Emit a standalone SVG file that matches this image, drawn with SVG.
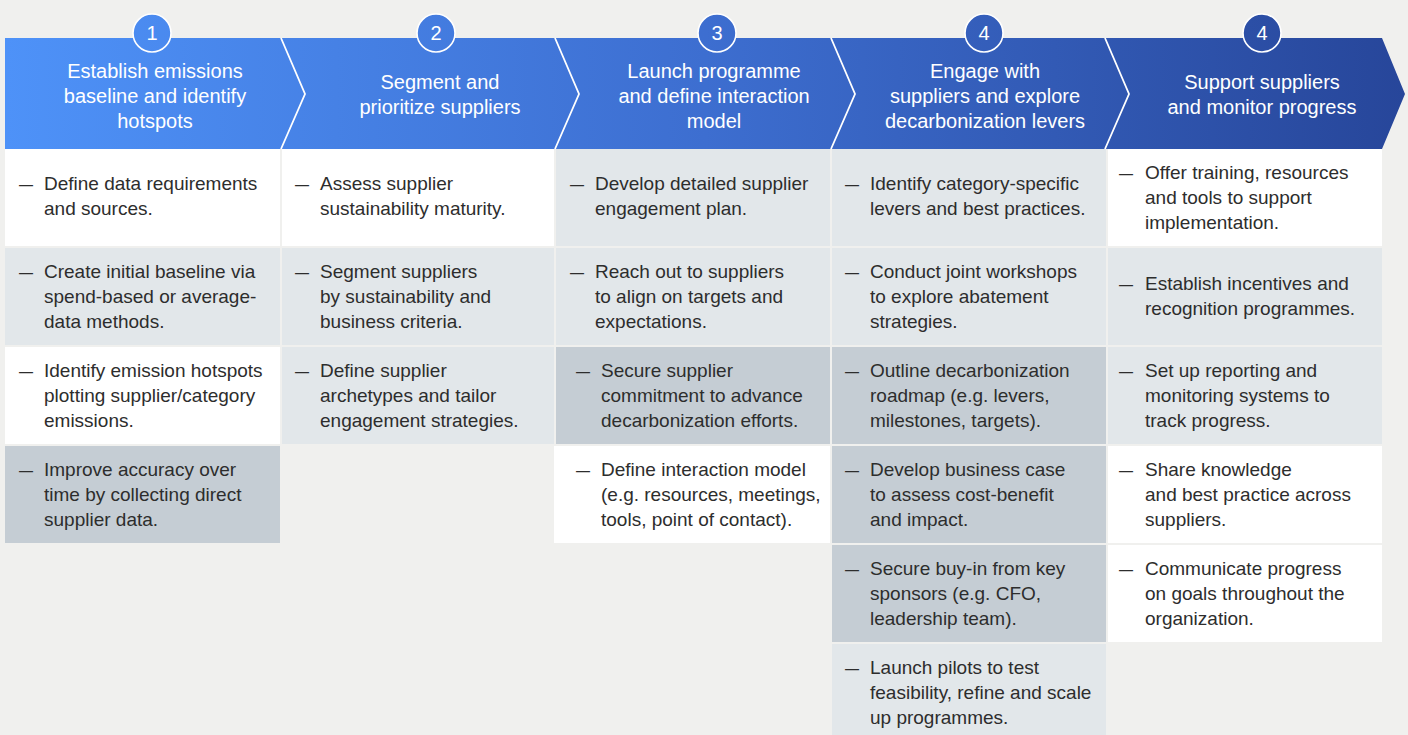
<svg xmlns="http://www.w3.org/2000/svg" width="1408" height="735" viewBox="0 0 1408 735">
<defs>
<linearGradient id="band" gradientUnits="userSpaceOnUse" x1="5" y1="0" x2="1405" y2="0">
<stop offset="0" stop-color="#4E92F8"/>
<stop offset="0.5" stop-color="#3D6ED0"/>
<stop offset="1" stop-color="#27469A"/>
</linearGradient>
<style>
.bg{fill:#F0F0EE}
.chev{fill:url(#band)}
.sep{fill:none;stroke:#FFFFFF;stroke-width:1.8;stroke-linejoin:miter}
.circ{fill:url(#band);stroke:#FFFFFF;stroke-width:1.6}
.num{font-family:"Liberation Sans",Arial,sans-serif;font-size:20px;fill:#FFFFFF;text-anchor:middle}
.ht{font-family:"Liberation Sans",Arial,sans-serif;font-size:20px;fill:#FFFFFF;text-anchor:middle}
.w{fill:#FFFFFF}
.l{fill:#E2E7EA}
.d{fill:#C5CDD4}
.t{font-family:"Liberation Sans",Arial,sans-serif;font-size:19px;fill:#2D2D2D}
</style>
</defs>
<rect class="bg" x="0" y="0" width="1408" height="735"/>

<g id="step1">
<polygon class="chev" points="5,38 281,38 305,94 281,149 5,149"/>
<rect class="w" x="5" y="149" width="275" height="97"/>
<rect class="l" x="5" y="248" width="275" height="97"/>
<rect class="w" x="5" y="347" width="275" height="97"/>
<rect class="d" x="5" y="446" width="275" height="97"/>
<text class="t"><tspan x="19" y="190" textLength="14" lengthAdjust="spacingAndGlyphs">—</tspan><tspan x="44" y="190">Define data requirements</tspan><tspan x="44" y="215">and sources.</tspan></text>
<text class="t"><tspan x="19" y="278" textLength="14" lengthAdjust="spacingAndGlyphs">—</tspan><tspan x="44" y="278">Create initial baseline via</tspan><tspan x="44" y="303">spend-based or average-</tspan><tspan x="44" y="328">data methods.</tspan></text>
<text class="t"><tspan x="19" y="377" textLength="14" lengthAdjust="spacingAndGlyphs">—</tspan><tspan x="44" y="377">Identify emission hotspots</tspan><tspan x="44" y="402">plotting supplier/category</tspan><tspan x="44" y="427">emissions.</tspan></text>
<text class="t"><tspan x="19" y="476" textLength="14" lengthAdjust="spacingAndGlyphs">—</tspan><tspan x="44" y="476">Improve accuracy over</tspan><tspan x="44" y="501">time by collecting direct</tspan><tspan x="44" y="526">supplier data.</tspan></text>
</g>

<g id="step2">
<polygon class="chev" points="281,38 555,38 579,94 555,149 281,149 305,94"/>
<rect class="w" x="282" y="149" width="272" height="97"/>
<rect class="l" x="282" y="248" width="272" height="97"/>
<rect class="l" x="282" y="347" width="272" height="97"/>
<text class="t"><tspan x="295" y="190" textLength="14" lengthAdjust="spacingAndGlyphs">—</tspan><tspan x="320" y="190">Assess supplier</tspan><tspan x="320" y="215">sustainability maturity.</tspan></text>
<text class="t"><tspan x="295" y="278" textLength="14" lengthAdjust="spacingAndGlyphs">—</tspan><tspan x="320" y="278">Segment suppliers</tspan><tspan x="320" y="303">by sustainability and</tspan><tspan x="320" y="328">business criteria.</tspan></text>
<text class="t"><tspan x="295" y="377" textLength="14" lengthAdjust="spacingAndGlyphs">—</tspan><tspan x="320" y="377">Define supplier</tspan><tspan x="320" y="402">archetypes and tailor</tspan><tspan x="320" y="427">engagement strategies.</tspan></text>
</g>

<g id="step3">
<polygon class="chev" points="555,38 831,38 855,94 831,149 555,149 579,94"/>
<rect class="l" x="556" y="149" width="274" height="97"/>
<rect class="l" x="556" y="248" width="274" height="97"/>
<rect class="d" x="556" y="347" width="274" height="97"/>
<rect class="w" x="554" y="446" width="276" height="97"/>
<text class="t"><tspan x="570" y="190" textLength="14" lengthAdjust="spacingAndGlyphs">—</tspan><tspan x="595" y="190">Develop detailed supplier</tspan><tspan x="595" y="215">engagement plan.</tspan></text>
<text class="t"><tspan x="570" y="278" textLength="14" lengthAdjust="spacingAndGlyphs">—</tspan><tspan x="595" y="278">Reach out to suppliers</tspan><tspan x="595" y="303">to align on targets and</tspan><tspan x="595" y="328">expectations.</tspan></text>
<text class="t"><tspan x="576" y="377" textLength="14" lengthAdjust="spacingAndGlyphs">—</tspan><tspan x="601" y="377">Secure supplier</tspan><tspan x="601" y="402">commitment to advance</tspan><tspan x="601" y="427">decarbonization efforts.</tspan></text>
<text class="t"><tspan x="576" y="476" textLength="14" lengthAdjust="spacingAndGlyphs">—</tspan><tspan x="601" y="476">Define interaction model</tspan><tspan x="601" y="501">(e.g. resources, meetings,</tspan><tspan x="601" y="526">tools, point of contact).</tspan></text>
</g>

<g id="step4">
<polygon class="chev" points="831,38 1105,38 1129,94 1105,149 831,149 855,94"/>
<rect class="l" x="832" y="149" width="274" height="97"/>
<rect class="l" x="832" y="248" width="274" height="97"/>
<rect class="d" x="832" y="347" width="274" height="97"/>
<rect class="d" x="832" y="446" width="274" height="97"/>
<rect class="d" x="832" y="545" width="274" height="97"/>
<rect class="l" x="832" y="644" width="274" height="97"/>
<text class="t"><tspan x="845" y="190" textLength="14" lengthAdjust="spacingAndGlyphs">—</tspan><tspan x="870" y="190">Identify category-specific</tspan><tspan x="870" y="215">levers and best practices.</tspan></text>
<text class="t"><tspan x="845" y="278" textLength="14" lengthAdjust="spacingAndGlyphs">—</tspan><tspan x="870" y="278">Conduct joint workshops</tspan><tspan x="870" y="303">to explore abatement</tspan><tspan x="870" y="328">strategies.</tspan></text>
<text class="t"><tspan x="845" y="377" textLength="14" lengthAdjust="spacingAndGlyphs">—</tspan><tspan x="870" y="377">Outline decarbonization</tspan><tspan x="870" y="402">roadmap (e.g. levers,</tspan><tspan x="870" y="427">milestones, targets).</tspan></text>
<text class="t"><tspan x="845" y="476" textLength="14" lengthAdjust="spacingAndGlyphs">—</tspan><tspan x="870" y="476">Develop business case</tspan><tspan x="870" y="501">to assess cost-benefit</tspan><tspan x="870" y="526">and impact.</tspan></text>
<text class="t"><tspan x="845" y="575" textLength="14" lengthAdjust="spacingAndGlyphs">—</tspan><tspan x="870" y="575">Secure buy-in from key</tspan><tspan x="870" y="600">sponsors (e.g. CFO,</tspan><tspan x="870" y="625">leadership team).</tspan></text>
<text class="t"><tspan x="845" y="674" textLength="14" lengthAdjust="spacingAndGlyphs">—</tspan><tspan x="870" y="674">Launch pilots to test</tspan><tspan x="870" y="699">feasibility, refine and scale</tspan><tspan x="870" y="724">up programmes.</tspan></text>
</g>

<g id="step5">
<polygon class="chev" points="1105,38 1382,38 1405,94 1382,149 1105,149 1129,94"/>
<rect class="w" x="1108" y="149" width="274" height="97"/>
<rect class="l" x="1108" y="248" width="274" height="97"/>
<rect class="l" x="1108" y="347" width="274" height="97"/>
<rect class="w" x="1108" y="446" width="274" height="97"/>
<rect class="w" x="1108" y="545" width="274" height="97"/>
<text class="t"><tspan x="1119" y="179" textLength="14" lengthAdjust="spacingAndGlyphs">—</tspan><tspan x="1145" y="179">Offer training, resources</tspan><tspan x="1145" y="204">and tools to support</tspan><tspan x="1145" y="229">implementation.</tspan></text>
<text class="t"><tspan x="1119" y="290" textLength="14" lengthAdjust="spacingAndGlyphs">—</tspan><tspan x="1145" y="290">Establish incentives and</tspan><tspan x="1145" y="315">recognition programmes.</tspan></text>
<text class="t"><tspan x="1119" y="377" textLength="14" lengthAdjust="spacingAndGlyphs">—</tspan><tspan x="1145" y="377">Set up reporting and</tspan><tspan x="1145" y="402">monitoring systems to</tspan><tspan x="1145" y="427">track progress.</tspan></text>
<text class="t"><tspan x="1119" y="476" textLength="14" lengthAdjust="spacingAndGlyphs">—</tspan><tspan x="1145" y="476">Share knowledge</tspan><tspan x="1145" y="501">and best practice across</tspan><tspan x="1145" y="526">suppliers.</tspan></text>
<text class="t"><tspan x="1119" y="575" textLength="14" lengthAdjust="spacingAndGlyphs">—</tspan><tspan x="1145" y="575">Communicate progress</tspan><tspan x="1145" y="600">on goals throughout the</tspan><tspan x="1145" y="625">organization.</tspan></text>
</g>

<g id="connectors">
<polyline class="sep" points="281,38 305,94 281,149"/>
<polyline class="sep" points="555,38 579,94 555,149"/>
<polyline class="sep" points="831,38 855,94 831,149"/>
<polyline class="sep" points="1105,38 1129,94 1105,149"/>
</g>

<g id="headers">
<text class="ht"><tspan x="155" y="78">Establish emissions</tspan><tspan x="155" y="103">baseline and identify</tspan><tspan x="155" y="128">hotspots</tspan></text>
<text class="ht"><tspan x="440" y="89">Segment and</tspan><tspan x="440" y="114">prioritize suppliers</tspan></text>
<text class="ht"><tspan x="714" y="78">Launch programme</tspan><tspan x="714" y="103">and define interaction</tspan><tspan x="714" y="128">model</tspan></text>
<text class="ht"><tspan x="985" y="78">Engage with</tspan><tspan x="985" y="103">suppliers and explore</tspan><tspan x="985" y="128">decarbonization levers</tspan></text>
<text class="ht"><tspan x="1262" y="89">Support suppliers</tspan><tspan x="1262" y="114">and monitor progress</tspan></text>
</g>

<g id="badges">
<circle class="circ" cx="152" cy="33" r="19"/>
<text class="num" x="152" y="40">1</text>
<circle class="circ" cx="436" cy="33" r="19"/>
<text class="num" x="436" y="40">2</text>
<circle class="circ" cx="717" cy="33" r="19"/>
<text class="num" x="717" y="40">3</text>
<circle class="circ" cx="984" cy="33" r="19"/>
<text class="num" x="984" y="40">4</text>
<circle class="circ" cx="1262" cy="33" r="19"/>
<text class="num" x="1262" y="40">4</text>
</g>
</svg>
